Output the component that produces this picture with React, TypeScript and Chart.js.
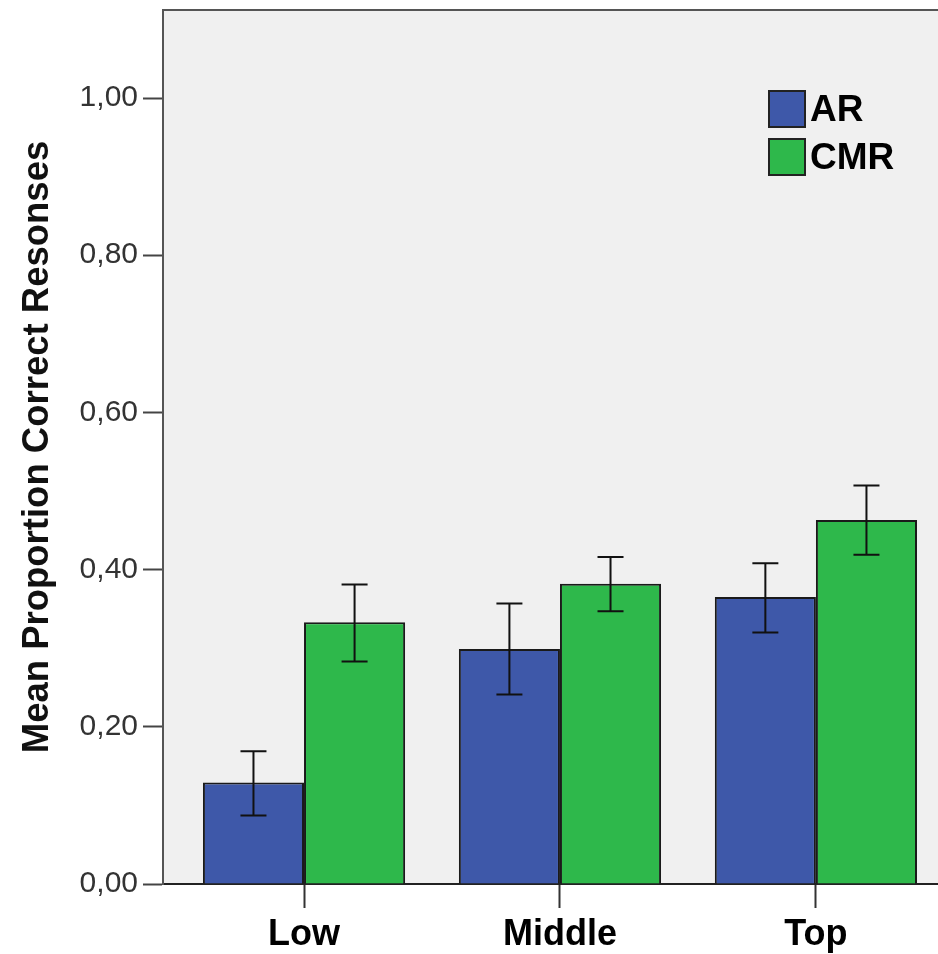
import React, { useEffect, useRef } from 'react';
import { Chart, registerables } from 'chart.js';

Chart.register(...registerables);

const categories = ['Low', 'Middle', 'Top'];
const seriesNames = ['AR', 'CMR'];
const seriesColors = ['#3e58a9', '#2eb84b'];
const arMeans = [0.129, 0.299, 0.365];
const cmrMeans = [0.333, 0.382, 0.463];
const arLow = [0.087, 0.241, 0.32];
const arHigh = [0.169, 0.357, 0.408];
const cmrLow = [0.283, 0.347, 0.419];
const cmrHigh = [0.381, 0.416, 0.507];
const yTicks = [0, 0.2, 0.4, 0.6, 0.8, 1.0];
const yMax = 1.112;
const xMin = -0.551;
const xMax = 2.477;
const yTitle = 'Mean Proportion Correct Resonses';

const FONT = "'Liberation Sans', Arial, sans-serif";

const backgroundPlugin = {
  id: 'plotBackground',
  beforeDraw(chart: any) {
    const { ctx, chartArea } = chart;
    ctx.save();
    ctx.fillStyle = '#f0f0f0';
    ctx.fillRect(chartArea.left, chartArea.top, chartArea.right - chartArea.left, chartArea.bottom - chartArea.top);
    ctx.restore();
  },
  afterDraw(chart: any) {
    const { ctx, chartArea } = chart;
    ctx.save();
    ctx.strokeStyle = '#555555';
    ctx.lineWidth = 2;
    ctx.beginPath();
    ctx.moveTo(chartArea.left - 1, chartArea.top);
    ctx.lineTo(chartArea.right, chartArea.top);
    ctx.stroke();
    ctx.restore();
  },
};

const errorBarPlugin = {
  id: 'errorBars',
  afterDatasetsDraw(chart: any) {
    const { ctx } = chart;
    const yScale = chart.scales.y;
    ctx.save();
    ctx.strokeStyle = '#111111';
    ctx.lineWidth = 2;
    chart.data.datasets.forEach((ds: any, d: number) => {
      const meta = chart.getDatasetMeta(d);
      meta.data.forEach((bar: any, i: number) => {
        const x = bar.x;
        const yl = yScale.getPixelForValue(ds.errLow[i]);
        const yh = yScale.getPixelForValue(ds.errHigh[i]);
        const cap = 13;
        ctx.beginPath();
        ctx.moveTo(x, yl);
        ctx.lineTo(x, yh);
        ctx.moveTo(x - cap, yh);
        ctx.lineTo(x + cap, yh);
        ctx.moveTo(x - cap, yl);
        ctx.lineTo(x + cap, yl);
        ctx.stroke();
      });
    });
    ctx.restore();
  },
};

const legendPlugin = {
  id: 'insideLegend',
  afterDraw(chart: any) {
    const { ctx, chartArea } = chart;
    const box = 36;
    const x0 = chartArea.right - 169;
    const y0 = chartArea.top + 81;
    ctx.save();
    chart.data.datasets.forEach((ds: any, i: number) => {
      const y = y0 + i * 48;
      ctx.fillStyle = ds.backgroundColor;
      ctx.fillRect(x0, y, box, box);
      ctx.strokeStyle = '#222222';
      ctx.lineWidth = 2;
      ctx.strokeRect(x0, y, box, box);
      ctx.fillStyle = '#000000';
      ctx.font = `bold 37px ${FONT}`;
      ctx.textBaseline = 'middle';
      ctx.textAlign = 'left';
      ctx.fillText(ds.label, x0 + box + 5, y + box / 2 + 2);
    });
    ctx.restore();
  },
};

export default function App() {
  const canvasRef = useRef<HTMLCanvasElement | null>(null);

  useEffect(() => {
    document.body.style.margin = '0';
    document.body.style.overflow = 'hidden';
    const canvas = canvasRef.current;
    if (!canvas) return;
    const means = [arMeans, cmrMeans];
    const lows = [arLow, cmrLow];
    const highs = [arHigh, cmrHigh];
    const chart = new Chart(canvas, {
      type: 'bar',
      data: {
        datasets: seriesNames.map((name, s) => ({
          label: name,
          data: means[s].map((v, i) => ({ x: i, y: v })),
          backgroundColor: seriesColors[s],
          borderColor: '#1a1a1a',
          borderWidth: 2,
          categoryPercentage: 0.79,
          barPercentage: 1,
          errLow: lows[s],
          errHigh: highs[s],
        })) as any,
      },
      options: {
        animation: false,
        responsive: false,
        devicePixelRatio: 1,
        layout: { padding: { left: 16, top: 10, right: 0, bottom: 0 } },
        plugins: {
          legend: { display: false },
          tooltip: { enabled: false },
        },
        scales: {
          x: {
            type: 'linear',
            min: xMin,
            max: xMax,
            offset: false,
            afterBuildTicks: (scale: any) => {
              scale.ticks = categories.map((_, i) => ({ value: i }));
            },
            afterFit: (scale: any) => {
              scale.height = 70;
              scale.paddingLeft = 0;
              scale.paddingRight = 0;
            },
            ticks: {
              autoSkip: false,
              maxRotation: 0,
              padding: 5,
              color: '#000000',
              font: { family: FONT, size: 36, weight: 'bold' },
              callback: (v: any) => categories[Math.round(Number(v))] ?? '',
            },
            grid: {
              offset: false,
              drawOnChartArea: false,
              drawTicks: true,
              tickLength: 24,
              tickWidth: 2,
              tickColor: '#333333',
            },
            border: { display: true, color: '#222222', width: 2 },
          },
          y: {
            type: 'linear',
            min: 0,
            max: yMax,
            afterBuildTicks: (scale: any) => {
              scale.ticks = yTicks.map((v) => ({ value: v }));
            },
            afterFit: (scale: any) => {
              scale.width = 147;
              scale.paddingTop = 0;
              scale.paddingBottom = 0;
            },
            ticks: {
              padding: 5,
              color: '#333333',
              font: { family: FONT, size: 30 },
              callback: (v: any) => Number(v).toFixed(2).replace('.', ','),
            },
            grid: {
              drawOnChartArea: false,
              drawTicks: true,
              tickLength: 20,
              tickWidth: 2,
              tickColor: '#444444',
            },
            border: { display: true, color: '#555555', width: 2 },
            title: {
              display: true,
              text: yTitle,
              color: '#111111',
              padding: 0,
              font: { family: FONT, size: 36.5, weight: 'bold' },
            },
          },
        },
      },
      plugins: [backgroundPlugin, errorBarPlugin, legendPlugin],
    } as any);
    return () => chart.destroy();
  }, []);

  return <canvas ref={canvasRef} width={938} height={954} style={{ display: 'block' }} />;
}
